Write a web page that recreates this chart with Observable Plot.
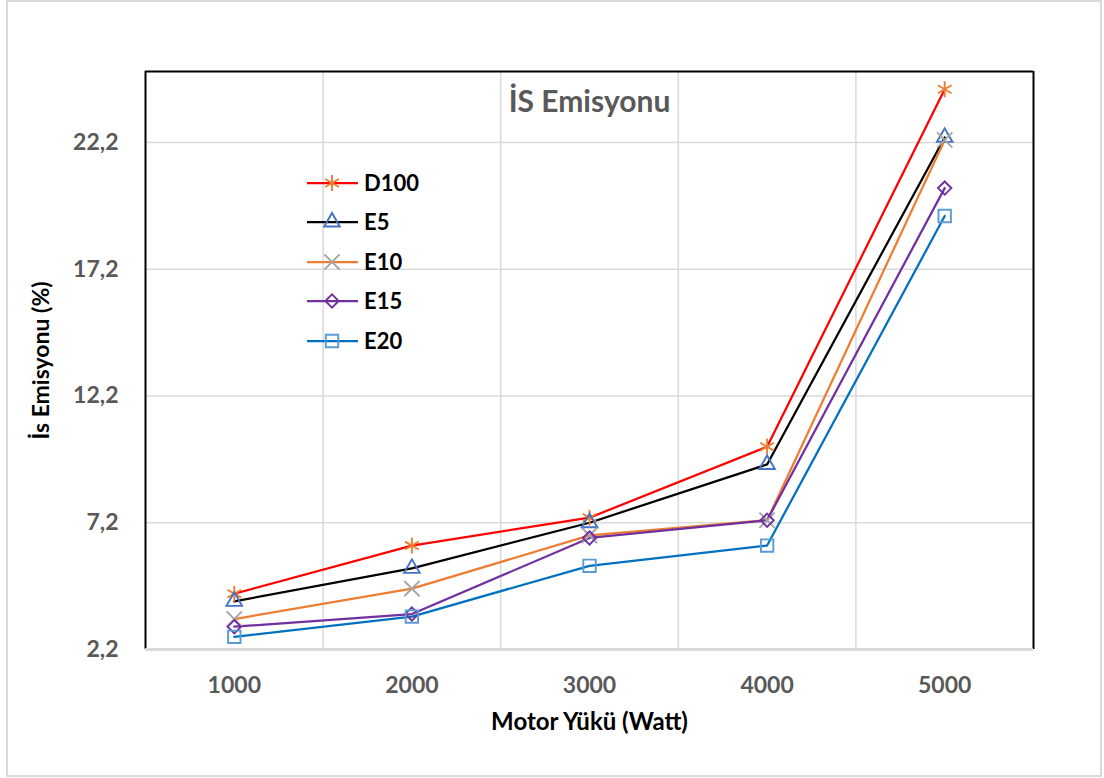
<!DOCTYPE html>
<html>
<head>
<meta charset="utf-8">
<script src="https://cdn.jsdelivr.net/npm/d3@7"></script>
<script src="https://cdn.jsdelivr.net/npm/@observablehq/plot@0.6"></script>
<style>
  html, body { margin: 0; padding: 0; background: #fff; overflow: hidden; }
  #wrap { position: relative; width: 1104px; height: 778px; font-family: Lato, "Open Sans", sans-serif; }
  #border { position: absolute; left: 6px; top: 0px; width: 1096px; height: 777px; box-sizing: border-box; border: 2px solid #d9d9d9; pointer-events: none; }
  #chart { position: absolute; left: 0; top: 0; }
  #legend { position: absolute; left: 307px; top: 163px; }
  .lg-row { display: flex; align-items: center; height: 39.5px; }
  .lg-row span { font-weight: 700; font-size: 22px; color: #000; margin-left: 5px; line-height: 20px; }
</style>
</head>
<body>
<div id="wrap">
  <div id="chart"></div>
  <div id="legend"></div>
  <div id="border"></div>
</div>
<script>
// ---- data ----
const loads = [1000, 2000, 3000, 4000, 5000];
const seriesNames = ["D100", "E5", "E10", "E15", "E20"];
const D100 = [4.4, 6.3, 7.4, 10.2, 24.3];
const E5   = [4.1, 5.4, 7.2, 9.5, 22.4];
const E10  = [3.4, 4.6, 6.7, 7.3, 22.3];
const E15  = [3.1, 3.6, 6.6, 7.3, 20.4];
const E20  = [2.7, 3.5, 5.5, 6.3, 19.3];
const yTicks = [2.2, 7.2, 12.2, 17.2, 22.2];
const xTicks = [1000, 2000, 3000, 4000, 5000];
const xGrid = [1500, 2500, 3500, 4500];
const titleText = "İS Emisyonu";
const yLabel = "İs Emisyonu (%)";
const xLabel = "Motor Yükü (Watt)";

// ---- styles ----
const styles = [
  {values: D100, line: "#ff0000", marker: "#ed7d31", symbol: "asterisk", r: 7.5},
  {values: E5,   line: "#000000", marker: "#4472c4", symbol: "triangle", r: 5.8},
  {values: E10,  line: "#ed7d31", marker: "#a5a5a5", symbol: "times",    r: 7},
  {values: E15,  line: "#7030a0", marker: "#7030a0", symbol: "diamond2", r: 6},
  {values: E20,  line: "#0070c0", marker: "#5b9bd5", symbol: "square",   r: 7},
];

const series = styles.map((s, i) => ({
  ...s,
  name: seriesNames[i],
  data: loads.map((x, j) => ({x, y: s.values[j]}))
}));

const fmt = d => d.toFixed(1).replace(".", ",");

const marks = [
  Plot.ruleY(yTicks.slice(1), {stroke: "#d9d9d9", strokeWidth: 1.5}),
  Plot.ruleX(xGrid, {stroke: "#d9d9d9", strokeWidth: 1.5}),
  Plot.ruleX([500, 5500], {stroke: "#000", strokeWidth: 2}),
  Plot.ruleY([25], {stroke: "#000", strokeWidth: 2}),
  Plot.ruleY([2.2], {stroke: "#d9d9d9", strokeWidth: 3}),
];
for (const s of series) {
  marks.push(Plot.line(s.data, {x: "x", y: "y", stroke: s.line, strokeWidth: 2.25}));
}
for (const s of series) {
  marks.push(Plot.dot(s.data, {x: "x", y: "y", symbol: () => s.symbol, r: s.r, stroke: s.marker, strokeWidth: 1.9, fill: "none"}));
}
marks.push(
  Plot.text([titleText], {text: d => d, frameAnchor: "top", lineAnchor: "middle", dy: 31, fontSize: 30, fontWeight: 700, fill: "#595959"}),
  Plot.text([yLabel], {text: d => d, frameAnchor: "left", textAnchor: "middle", lineAnchor: "middle", dx: -104, rotate: -90, fontSize: 23, fontWeight: 700, fill: "#000"}),
  Plot.text([xLabel], {text: d => d, frameAnchor: "bottom", lineAnchor: "middle", dy: 73, fontSize: 24, fontWeight: 700, fill: "#000"})
);

const chart = Plot.plot({
  width: 1104,
  height: 778,
  marginLeft: 145,
  marginRight: 71,
  marginTop: 71,
  marginBottom: 129,
  style: {fontFamily: "Lato, 'Open Sans', sans-serif", fontSize: "23px", fontWeight: 700, color: "#595959", background: "transparent"},
  symbol: {type: "identity"},
  x: {type: "linear", domain: [500, 5500], ticks: xTicks, tickFormat: d => String(d), tickSize: 0, tickPadding: 27, label: null},
  y: {domain: [2.2, 25], ticks: yTicks, tickFormat: fmt, tickSize: 0, tickPadding: 27, label: null},
  marks
});
document.getElementById("chart").appendChild(chart);

// ---- legend ----
const legend = d3.select("#legend");
const symMap = {asterisk: d3.symbolAsterisk, triangle: d3.symbolTriangle, times: d3.symbolTimes, diamond2: d3.symbolDiamond2, square: d3.symbolSquare};
for (const s of series) {
  const row = legend.append("div").attr("class", "lg-row");
  const svg = row.append("svg").attr("width", 52).attr("height", 24);
  svg.append("line").attr("x1", 0).attr("x2", 51).attr("y1", 12).attr("y2", 12)
    .attr("stroke", s.line).attr("stroke-width", 2.25);
  svg.append("path").attr("transform", "translate(25,12)")
    .attr("d", d3.symbol(symMap[s.symbol], Math.PI * s.r * s.r)())
    .attr("fill", "none").attr("stroke", s.marker).attr("stroke-width", 1.9);
  row.append("span").text(s.name);
}
</script>
</body>
</html>
